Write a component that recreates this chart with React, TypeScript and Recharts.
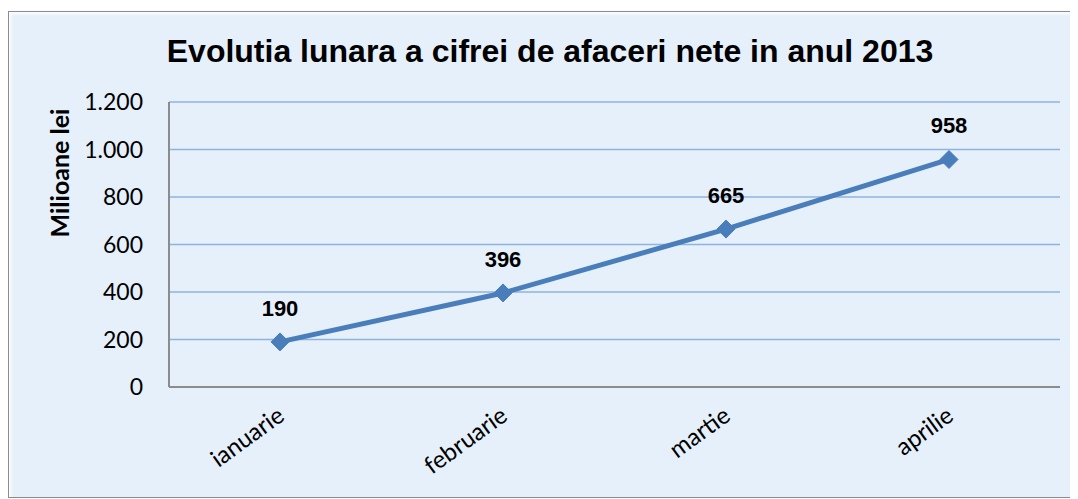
import { LineChart, Line, XAxis, YAxis, CartesianGrid, LabelList } from 'recharts';

// values
const months = ['ianuarie', 'februarie', 'martie', 'aprilie'];
const revenue = [190, 396, 665, 958];
const yTicks = [0, 200, 400, 600, 800, 1000, 1200];

const chartData = months.map((m, i) => ({ month: m, value: revenue[i] }));

const fmt = (v: number) => v.toString().replace(/\B(?=(\d{3})+(?!\d))/g, '.');

const bodyFont = "Lato, 'Open Sans', sans-serif";
const boldFont = "'Liberation Sans', Arial, sans-serif";

const Diamond = (props: any) => {
  const { cx, cy } = props;
  if (cx == null || cy == null) return null;
  const r = 9;
  return (
    <path
      d={`M${cx},${cy - r} L${cx + r},${cy} L${cx},${cy + r} L${cx - r},${cy} Z`}
      fill="#4A7EBB"
      stroke="#4A7EBB"
    />
  );
};

const MonthTick = (props: any) => {
  const { x, y, payload } = props;
  return (
    <text
      x={x + 6}
      y={y + 24}
      textAnchor="end"
      transform={`rotate(-36, ${x + 6}, ${y + 24})`}
      style={{ fontSize: 24, fontFamily: bodyFont }}
      fill="#000"
    >
      {payload.value}
    </text>
  );
};

const ValueLabel = (props: any) => {
  const { x, y, value } = props;
  return (
    <text
      x={x}
      y={y - 26}
      textAnchor="middle"
      style={{ fontSize: 22, fontWeight: 'bold', fontFamily: boldFont }}
      fill="#000"
    >
      {value}
    </text>
  );
};

export default function App() {
  return (
    <div
      style={{
        position: 'relative',
        width: 1068,
        height: 485,
        marginTop: 3,
        border: '1px solid #8c8c8c',
        background: '#E6F0FB',
        boxShadow: '2px 2px 3px rgba(0,0,0,0.35), inset 2px 2px 3px rgba(255,255,255,0.9)',
      }}
    >
      <div
        style={{
          position: 'absolute',
          left: 0,
          width: 1082,
          top: 21,
          textAlign: 'center',
          fontFamily: boldFont,
          fontWeight: 'bold',
          fontSize: 32,
          color: '#000',
          lineHeight: '36px',
        }}
      >
        Evolutia lunara a cifrei de afaceri nete in anul 2013
      </div>
      <div style={{ position: 'absolute', left: 50, top: 161, width: 0, height: 0 }}>
        <div
          style={{
            position: 'absolute',
            transform: 'translate(-50%, -50%) rotate(-90deg)',
            whiteSpace: 'nowrap',
            fontFamily: bodyFont,
            fontWeight: 'bold',
            fontSize: 25,
            color: '#000',
          }}
        >
          Milioane lei
        </div>
      </div>
      <LineChart
        width={1068}
        height={485}
        data={chartData}
        margin={{ top: 90, right: 17, left: 0, bottom: 0 }}
      >
        <CartesianGrid horizontal={true} vertical={false} stroke="#8FB3E0" strokeWidth={1.5} />
        <XAxis
          dataKey="month"
          axisLine={{ stroke: '#8c8c8c', strokeWidth: 2 }}
          tickLine={false}
          tick={<MonthTick />}
          interval={0}
          height={110}
          padding={{ left: 111, right: 111 }}
        />
        <YAxis
          domain={[0, 1200]}
          ticks={yTicks}
          interval={0}
          tickFormatter={fmt}
          width={160}
          axisLine={{ stroke: '#8c8c8c', strokeWidth: 2 }}
          tickLine={false}
          tickMargin={20}
          tick={{ fontSize: 23, fill: '#000', fontFamily: bodyFont }}
        />
        <Line
          type="linear"
          dataKey="value"
          stroke="#4A7EBB"
          strokeWidth={5}
          dot={<Diamond />}
          isAnimationActive={false}
        >
          <LabelList dataKey="value" content={<ValueLabel />} />
        </Line>
      </LineChart>
    </div>
  );
}
